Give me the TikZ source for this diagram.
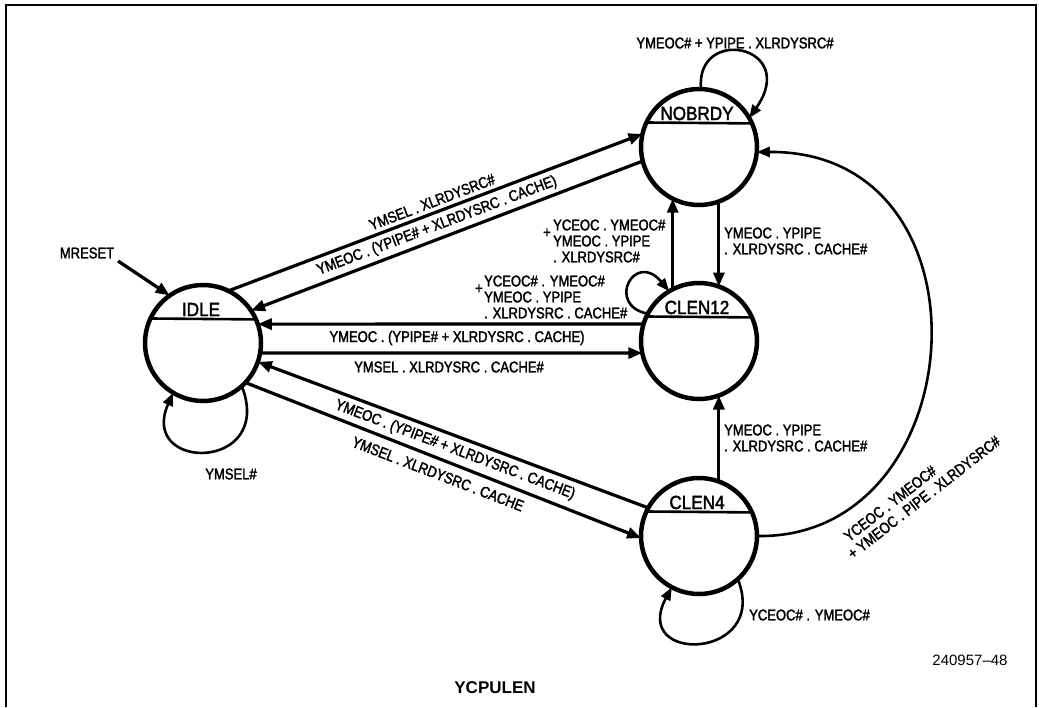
\documentclass[tikz,border=0pt]{standalone}
\usepackage{fontspec}
\setmainfont{Liberation Sans}[FakeStretch=0.84, FakeBold=2]
\newfontfamily\statefont{Liberation Sans}[FakeStretch=0.9, FakeBold=2]
\newfontfamily\plainsans{Liberation Sans}
\usetikzlibrary{arrows.meta,calc}

% one state: circle with a chord near the top and its name above the chord
\newcommand\fsmstate[4]{%
  \node[st] (#1) at (#2,#3) {};
  \draw[chord] (#1.155.6) -- (#1.24.4);
  \node[nm, anchor=base] (#1-name) at (#2-2,#3-27) {#4};
}

\begin{document}
\begin{tikzpicture}[x=1pt,y=-1pt,
  st/.style={circle, draw, line width=4.5pt, minimum size=116pt, inner sep=0pt, outer sep=0pt},
  chord/.style={line width=2.6pt},
  nm/.style={font=\statefont\fontsize{19}{21}\selectfont, inner sep=0pt},
  lbl/.style={font=\fontsize{15.5}{16}\selectfont, inner sep=0pt, align=left},
  tr/.style={line width=3.2pt, -{Triangle[length=14pt,width=11pt]}},
  lp/.style={line width=2.6pt, -{Triangle[length=13pt,width=10pt]}},
]
\fill[white] (0,0) rectangle (1039,707);
\useasboundingbox (0,0) rectangle (1039,707);

% frame
\draw[line width=2pt] (6,707) -- (6,5) -- (1036,5) -- (1036,707);

% states
\fsmstate{idle}{203}{343}{IDLE}
\fsmstate{nob}{699}{147}{NOBRDY}
\fsmstate{c12}{699}{341}{CLEN12}
\fsmstate{c4}{699}{536}{CLEN4}

% reset entry
\node[lbl] (mr) at (87,253) {MRESET};
\coordinate (rs) at (118,261);
\draw[tr] (rs) -- (idle.125);

% transitions between states
\draw[tr] (idle.64) -- (nob.167);
\draw[tr] (nob.194) -- (idle.34);
\draw[tr] (c12.163) -- (idle.19);
\draw[tr] (idle.-10) -- (c12.192);
\draw[tr] (c4.151) -- (idle.-19);
\draw[tr] (idle.-43) -- (c4.182);
\draw[tr] (c12.117) -- (nob.243);
\draw[tr] (nob.-70) -- (c12.70);
\draw[tr] (c4.70) -- (c12.-70);
\draw[lp] (c4.east) .. controls (975,540) and (1000,150) .. (nob.-5);

% self loops
\draw[lp] (nob.88) .. controls (695,25) and (800,45) .. (nob.30);
\draw[lp] (c12.152) .. controls (605,305) and (635,250) .. (c12.121);
\draw[lp] (idle.-48) .. controls (275,472) and (138,472) .. (idle.-121);
\draw[lp] (c4.-48) .. controls (770,660) and (630,665) .. (c4.-118);

% transition conditions
\node[lbl, rotate=20.7] (l1) at (432,202) {YMSEL . XLRDYSRC\#};
\node[lbl, rotate=20.7] (l2) at (437,226) {YMEOC . (YPIPE\# + XLRDYSRC . CACHE)};
\node[lbl] (l3) at (457,338) {YMEOC . (YPIPE\# + XLRDYSRC . CACHE)};
\node[lbl] (l4) at (449,367) {YMSEL . XLRDYSRC . CACHE\#};
\node[lbl, rotate=-20.7] (l5) at (455,450) {YMEOC . (YPIPE\# + XLRDYSRC . CACHE)};
\node[lbl, rotate=-21] (l6) at (438,474) {YMSEL . XLRDYSRC . CACHE};
\node[lbl, anchor=west] (l7) at (724,241) {YMEOC . YPIPE\\. XLRDYSRC . CACHE\#};
\node[lbl, anchor=west] (l8) at (553,241) {YCEOC . YMEOC\#\\YMEOC . YPIPE\\. XLRDYSRC\#};
\node[lbl] (l8p) at (547,233) {+};
\node[lbl, anchor=west] (l9) at (484,297) {YCEOC\# . YMEOC\#\\YMEOC . YPIPE\\. XLRDYSRC . CACHE\#};
\node[lbl] (l9p) at (479,289) {+};
\node[lbl, anchor=west] (l10) at (724,438) {YMEOC . YPIPE\\. XLRDYSRC . CACHE\#};
\node[lbl] (l11) at (735,43) {YMEOC\# + YPIPE . XLRDYSRC\#};
\node[lbl, anchor=west] (l12) at (749,615) {YCEOC\# . YMEOC\#};
\node[lbl] (l13) at (231,474) {YMSEL\#};
\node[lbl, rotate=38] (l14) at (919,491) {\phantom{+}YCEOC . YMEOC\#\\+ YMEOC . PIPE . XLRDYSRC\#};

% figure number and title
\node[font=\plainsans\fontsize{15}{17}\selectfont] (fig) at (970,660) {240957–48};
\node[font=\plainsans\bfseries\fontsize{17}{19}\selectfont] (ttl) at (495,688) {YCPULEN};
\end{tikzpicture}
\end{document}
